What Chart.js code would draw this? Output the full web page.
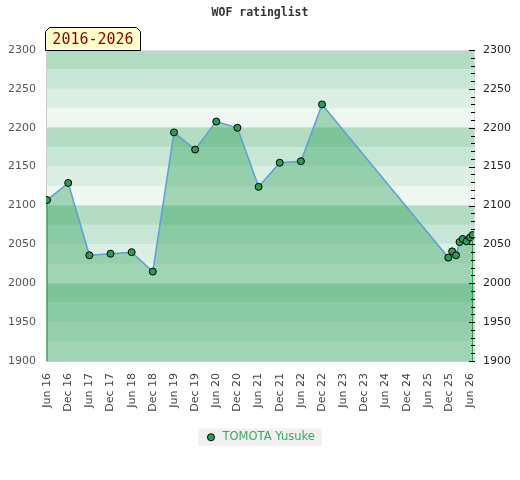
<!DOCTYPE html>
<html>
<head>
<meta charset="utf-8">
<title>WOF ratinglist</title>
<script src="https://cdn.jsdelivr.net/npm/chart.js@4.4.0/dist/chart.umd.min.js"></script>
<style>
  html, body { margin: 0; padding: 0; background: #fff; }
  canvas { display: block; }
</style>
</head>
<body>
<canvas id="wof-chart" width="520" height="480"></canvas>
<script>
const ctx = document.getElementById('wof-chart');

// months counted from Jun 2016
const months = [0, 6, 12, 18, 24, 30, 36, 42, 48, 54, 60, 66, 72, 78, 113.8, 114.9, 116, 117, 117.9, 119, 120, 120.7]
const ratings = [2107, 2129, 2036, 2038, 2040, 2015, 2194, 2172, 2208, 2200, 2124, 2155, 2157, 2230, 2033, 2041, 2036, 2053, 2057, 2054, 2059, 2062]
const tickLabels = ["Jun 16", "Dec 16", "Jun 17", "Dec 17", "Jun 18", "Dec 18", "Jun 19", "Dec 19", "Jun 20", "Dec 20",
  "Jun 21", "Dec 21", "Jun 22", "Dec 22", "Jun 23", "Dec 23", "Jun 24", "Dec 24", "Jun 25", "Dec 25", "Jun 26"]
const player = "TOMOTA Yusuke"
const period = "2016-2026"

Chart.defaults.font.family = "DejaVu Sans";

// striped background, 25 points per band
const bands = {
  id: 'bands',
  beforeDraw(chart) {
    const c = chart.ctx, a = chart.chartArea, y = chart.scales.y;
    const shades = ['#b3dcc3', '#c8e6d5', '#dcefe3', '#eef7f1'];
    c.save();
    for (let v = y.max, i = 0; v > y.min; v -= 25, i++) {
      const top = y.getPixelForValue(v), bot = y.getPixelForValue(v - 25);
      c.fillStyle = shades[i % 4];
      c.fillRect(a.left, top, a.right - a.left, bot - top);
    }
    // grey box behind the legend item
    const hb = chart.legend && chart.legend.legendHitBoxes[0];
    if (hb) {
      c.fillStyle = '#f0f0f0';
      c.fillRect(hb.left - 7, hb.top - 3, hb.width + 14, hb.height + 6);
    }
    c.restore();
  }
};

// dark edges of the filled area + inner ticks of the right axis
const edges = {
  id: 'edges',
  afterDatasetsDraw(chart) {
    const c = chart.ctx, a = chart.chartArea;
    const pts = chart.getDatasetMeta(0).data;
    c.save();
    c.strokeStyle = '#2e9b52';
    c.lineWidth = 1.2;
    [pts[0], pts[pts.length - 1]].forEach(p => {
      c.beginPath();
      c.moveTo(p.x, p.y + 4);
      c.lineTo(p.x, a.bottom);
      c.stroke();
    });
    c.strokeStyle = '#000';
    c.lineWidth = 1;
    const y2 = chart.scales.y2;
    y2.ticks.forEach(t => {
      const py = Math.round(y2.getPixelForValue(t.value)) + 0.5;
      const len = t.value % 50 === 0 ? 5 : 3;
      c.beginPath();
      c.moveTo(a.right - len, py);
      c.lineTo(a.right + 1, py);
      c.stroke();
    });
    c.restore();
  }
};

const periodTag = {
  id: 'periodTag',
  afterDraw(chart) {
    const c = chart.ctx, a = chart.chartArea;
    const x0 = a.left - 0.5, x1 = a.left + 94.5, y0 = a.top - 22.5, y1 = a.top + 0.5, k = 4;
    c.save();
    c.beginPath();
    c.moveTo(x0, y1);
    c.lineTo(x0, y0 + k);
    c.lineTo(x0 + k, y0);
    c.lineTo(x1 - k, y0);
    c.lineTo(x1, y0 + k);
    c.lineTo(x1, y1);
    c.closePath();
    c.fillStyle = '#ffffcc';
    c.fill();
    c.strokeStyle = '#000';
    c.lineWidth = 1;
    c.stroke();
    c.fillStyle = '#8b0000';
    c.font = '15px "DejaVu Sans Mono"';
    c.textAlign = 'center';
    c.textBaseline = 'middle';
    c.fillText(period, (x0 + x1) / 2, (y0 + y1) / 2 + 1);
    c.restore();
  }
};

new Chart(ctx, {
  type: 'line',
  data: {
    datasets: [{
      label: player,
      data: months.map((m, i) => ({ x: m, y: ratings[i] })),
      borderColor: '#5b9fd6',
      borderWidth: 1.5,
      backgroundColor: 'rgba(46,160,90,0.4)',
      fill: 'start',
      tension: 0,
      pointRadius: 3.5,
      pointBackgroundColor: '#2e9b52',
      pointBorderColor: '#000',
      pointBorderWidth: 1
    }]
  },
  options: {
    responsive: false,
    animation: false,
    devicePixelRatio: 1,
    layout: { padding: { bottom: 27 } },
    plugins: {
      title: {
        display: true,
        text: 'WOF ratinglist',
        color: '#333',
        font: { family: 'DejaVu Sans Mono', size: 11.5, weight: 'bold' },
        padding: { top: 6, bottom: 30.2 }
      },
      legend: {
        position: 'bottom',
        labels: {
          usePointStyle: true,
          pointStyle: 'circle',
          boxWidth: 12,
          boxHeight: 5,
          color: '#3aa860',
          font: { size: 11.5 }
        }
      },
      tooltip: { enabled: false }
    },
    scales: {
      x: {
        type: 'linear',
        min: -0.3,
        max: 121.1,
        afterBuildTicks(s) { s.ticks = tickLabels.map((_, i) => ({ value: i * 6 })); },
        afterFit(s) { s.height = 60.5; },
        ticks: {
          autoSkip: false,
          minRotation: 90,
          maxRotation: 90,
          padding: 12,
          color: '#444',
          font: { size: 11 },
          callback: (v, i) => tickLabels[i]
        },
        grid: { display: false, drawTicks: false },
        border: { color: '#ccc' }
      },
      y: {
        position: 'left',
        min: 1900,
        max: 2300,
        afterFit(s) { s.width = 46; },
        ticks: {
          stepSize: 50,
          padding: 10,
          color: '#555',
          font: { size: 11 },
          callback: v => String(v)
        },
        grid: {
          drawTicks: false,
          color: c => c.tick && c.tick.value % 100 === 0 ? '#dddddd' : 'rgba(0,0,0,0)'
        },
        border: { color: '#ccc' }
      },
      y2: {
        position: 'right',
        min: 1900,
        max: 2300,
        afterBuildTicks(s) {
          const t = [];
          for (let v = 1900; v <= 2300; v += 10) t.push({ value: v });
          s.ticks = t;
        },
        afterFit(s) { s.width = 46; },
        ticks: {
          autoSkip: false,
          padding: 9,
          color: '#222',
          font: { size: 11 },
          callback: v => v % 50 === 0 ? String(v) : ''
        },
        grid: { drawOnChartArea: false, drawTicks: false },
        border: { color: '#ddd' }
      }
    }
  },
  plugins: [bands, edges, periodTag]
})
</script>
</body>
</html>
